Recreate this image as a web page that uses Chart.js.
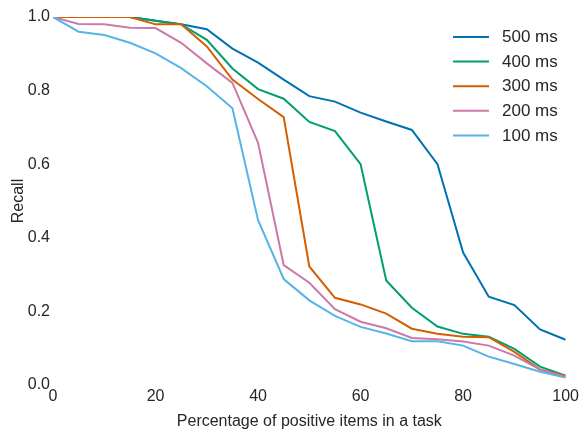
<!DOCTYPE html>
<html>
<head>
<meta charset="utf-8">
<script src="https://cdn.jsdelivr.net/npm/chart.js@4"></script>
<style>
  html, body { margin: 0; padding: 0; background: #fff; }
  #wrap { width: 581px; height: 431px; }
</style>
</head>
<body>
<div id="wrap"><canvas id="c" width="581" height="431"></canvas></div>
<script>
const xValues = [0, 5, 10, 15, 20, 25, 30, 35, 40, 45, 50, 55, 60, 65, 70, 75, 80, 85, 90, 95, 100];
const seriesLabels = ['500 ms', '400 ms', '300 ms', '200 ms', '100 ms'];
const recall500 = [1.0, 1.0, 1.0, 1.0, 0.99, 0.98, 0.967, 0.914, 0.876, 0.83, 0.785, 0.77, 0.74, 0.716, 0.693, 0.60, 0.36, 0.24, 0.217, 0.151, 0.123];
const recall400 = [1.0, 1.0, 1.0, 1.0, 0.99, 0.98, 0.938, 0.86, 0.804, 0.778, 0.715, 0.69, 0.60, 0.284, 0.21, 0.159, 0.139, 0.131, 0.098, 0.05, 0.025];
const recall300 = [1.0, 1.0, 1.0, 1.0, 0.98, 0.98, 0.92, 0.83, 0.777, 0.728, 0.322, 0.237, 0.219, 0.194, 0.153, 0.139, 0.131, 0.13, 0.09, 0.042, 0.025];
const recall200 = [1.0, 0.981, 0.98, 0.971, 0.97, 0.93, 0.874, 0.821, 0.658, 0.326, 0.278, 0.206, 0.172, 0.154, 0.128, 0.124, 0.118, 0.107, 0.08, 0.042, 0.022];
const recall100 = [1.0, 0.96, 0.951, 0.93, 0.901, 0.861, 0.812, 0.752, 0.448, 0.288, 0.23, 0.188, 0.158, 0.14, 0.119, 0.119, 0.107, 0.077, 0.057, 0.036, 0.02];
const yTicks = [0.0, 0.2, 0.4, 0.6, 0.8, 1.0];
const xTicks = [0, 20, 40, 60, 80, 100];
const colors = ['#0072B2', '#009E73', '#D55E00', '#CC79A7', '#56B4E9'];

const allSeries = [recall500, recall400, recall300, recall200, recall100];
const textColor = '#262626';
const fontFamily = '"Liberation Sans", Arial, sans-serif';

const datasets = allSeries.map((vals, i) => ({
  label: seriesLabels[i],
  data: xValues.map((x, j) => ({ x: x, y: vals[j] })),
  borderColor: colors[i],
  backgroundColor: colors[i],
  borderWidth: 2,
  pointRadius: 0,
  tension: 0,
  fill: false,
  order: allSeries.length - i
}));

const legendPlugin = {
  id: 'insideLegend',
  afterDraw(chart) {
    const ctx = chart.ctx;
    ctx.save();
    ctx.font = '17px ' + fontFamily;
    ctx.textBaseline = 'middle';
    ctx.textAlign = 'left';
    chart.data.datasets.forEach((ds, i) => {
      const y = 37 + i * 24.6;
      ctx.strokeStyle = ds.borderColor;
      ctx.lineWidth = 2;
      ctx.beginPath();
      ctx.moveTo(453, y);
      ctx.lineTo(489, y);
      ctx.stroke();
      ctx.fillStyle = textColor;
      ctx.fillText(ds.label, 502, y + 0.5);
    });
    ctx.restore();
  }
};

new Chart(document.getElementById('c'), {
  type: 'line',
  data: { datasets: datasets },
  options: {
    responsive: false,
    animation: false,
    devicePixelRatio: 1,
    layout: { padding: { top: 17, right: 14, left: 0, bottom: 0 } },
    plugins: {
      legend: { display: false },
      tooltip: { enabled: false }
    },
    scales: {
      x: {
        type: 'linear',
        min: 0,
        max: 100,
        afterBuildTicks(scale) { scale.ticks = xTicks.map(v => ({ value: v })); },
        afterFit(scale) { scale.height = 46; },
        grid: { display: false, drawTicks: false },
        border: { display: false },
        ticks: {
          padding: 2,
          color: textColor,
          font: { size: 16, family: fontFamily },
          maxRotation: 0,
          callback: v => String(v)
        },
        title: {
          display: true,
          text: 'Percentage of positive items in a task',
          color: textColor,
          font: { size: 16, family: fontFamily },
          padding: { top: 0, bottom: 0 }
        }
      },
      y: {
        min: 0,
        max: 1,
        afterBuildTicks(scale) { scale.ticks = yTicks.map(v => ({ value: v })); },
        afterFit(scale) { scale.width = 53; },
        grid: { display: false, drawTicks: false },
        border: { display: false },
        ticks: {
          padding: 3,
          color: textColor,
          font: { size: 16, family: fontFamily },
          callback: v => Number(v).toFixed(1)
        },
        title: {
          display: true,
          text: 'Recall',
          color: textColor,
          font: { size: 16, family: fontFamily },
          padding: { top: 9, bottom: 0 }
        }
      }
    }
  },
  plugins: [legendPlugin]
});
</script>
</body>
</html>
